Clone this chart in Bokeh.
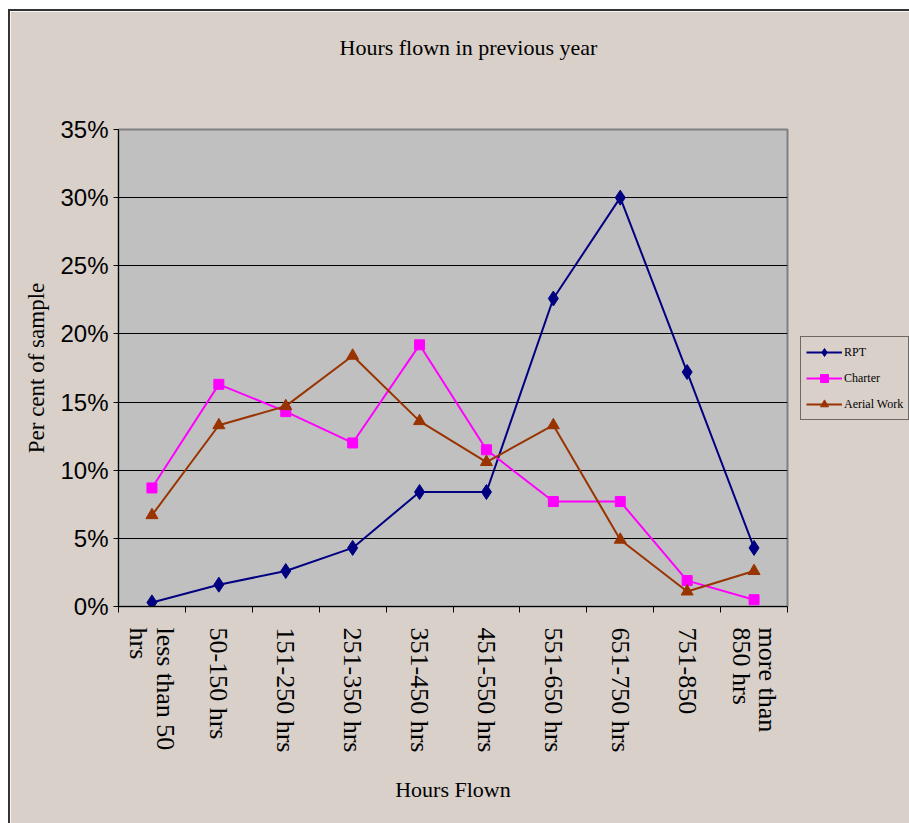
from bokeh.plotting import figure
from bokeh.models import (Range1d, FixedTicker, PrintfTickFormatter, Legend,
                          LegendItem, Title)
from bokeh.embed import file_html
from bokeh.resources import INLINE
import math

# Hours-flown bands and the share of each sector's sample in each band (%)
categories = ["less than 50\nhrs", "50-150 hrs", "151-250 hrs", "251-350 hrs",
              "351-450 hrs", "451-550 hrs", "551-650 hrs", "651-750 hrs",
              "751-850", "more than\n850 hrs"]
rpt = [0.3, 1.6, 2.6, 4.3, 8.4, 8.4, 22.6, 30.0, 17.2, 4.3]
charter = [8.7, 16.3, 14.3, 12.0, 19.2, 11.5, 7.7, 7.7, 1.9, 0.5]
aerial_work = [6.7, 13.3, 14.7, 18.4, 13.6, 10.6, 13.3, 4.9, 1.1, 2.6]
y_ticks = [0, 5, 10, 15, 20, 25, 30, 35]

BG = "#D9D0CA"
SERIF = "Liberation Serif"
SANS = "Liberation Sans"

x = [i + 0.5 for i in range(len(categories))]

p = figure(frame_width=669, frame_height=477, output_backend="svg",
           toolbar_location=None, title=None,
           x_range=Range1d(0, len(categories)), y_range=Range1d(0, 35),
           min_border_left=108, min_border_right=122,
           min_border_top=118, min_border_bottom=217)
p.margin = (9, 0, 0, 8)
p.styles = {"border-left": "2px solid #333333", "border-top": "2px solid #333333"}

p.background_fill_color = "#C0C0C0"
p.border_fill_color = BG
p.outline_line_color = "#808080"
p.outline_line_width = 2

# blank band between the plot area and the chart title
p.add_layout(Title(text=" ", text_font=SERIF, text_font_size="22px",
                   standoff=43), "above")
# chart title
p.add_layout(Title(text="Hours flown in previous year", text_font=SERIF,
                   text_font_size="22px", text_font_style="normal",
                   text_color="black", align="left", offset=221, standoff=0),
             "above")

# grid
p.xgrid.grid_line_color = None
p.ygrid.grid_line_color = "black"
p.ygrid.grid_line_width = 1

# y axis
p.yaxis.ticker = FixedTicker(ticks=y_ticks)
p.yaxis.formatter = PrintfTickFormatter(format="%d%%")
p.yaxis.major_label_text_font = SANS
p.yaxis.major_label_text_font_size = "24px"
p.yaxis.major_label_text_color = "black"
p.yaxis.major_tick_in = 0
p.yaxis.major_tick_out = 5
p.yaxis.minor_tick_line_color = None
p.yaxis.major_label_standoff = 5
p.yaxis.axis_line_color = "black"
p.yaxis.axis_line_width = 1
p.yaxis.axis_label = "Per cent of sample"
p.yaxis.axis_label_text_font = SERIF
p.yaxis.axis_label_text_font_style = "normal"
p.yaxis.axis_label_text_font_size = "23px"
p.yaxis.axis_label_text_color = "black"
p.yaxis.axis_label_standoff = 8

# x axis: labels centred on bands, ticks on band boundaries
p.xaxis.ticker = FixedTicker(ticks=x, minor_ticks=list(range(len(categories) + 1)))
p.xaxis.major_label_overrides = {xv: c for xv, c in zip(x, categories)}
p.xaxis.major_label_orientation = -math.pi / 2
p.xaxis.major_label_text_font = SERIF
p.xaxis.major_label_text_font_size = "26px"
p.xaxis.major_label_text_line_height = 0.9
p.xaxis.major_label_text_color = "black"
p.xaxis.major_tick_in = 0
p.xaxis.major_tick_out = 0
p.xaxis.major_tick_line_color = None
p.xaxis.minor_tick_in = 0
p.xaxis.minor_tick_out = 6
p.xaxis.minor_tick_line_color = "black"
p.xaxis.major_label_standoff = 15
p.xaxis.axis_line_color = "black"
p.xaxis.axis_label = "Hours Flown"
p.xaxis.axis_label_text_font = SERIF
p.xaxis.axis_label_text_font_style = "normal"
p.xaxis.axis_label_text_font_size = "22px"
p.xaxis.axis_label_text_color = "black"
p.xaxis.axis_label_standoff = 22

series = [
    ("RPT", rpt, "#000080", "diamond", 15),
    ("Charter", charter, "#FF00FF", "square", 10),
    ("Aerial Work", aerial_work, "#993300", "triangle", 12),
]
items = []
for name, vals, color, marker, size in series:
    ln = p.line(x, vals, line_color=color, line_width=2)
    sc = p.scatter(x, vals, marker=marker, size=size, fill_color=color,
                   line_color=color)
    items.append(LegendItem(label=name, renderers=[ln, sc]))

legend = Legend(items=items, location=(13, 186), margin=0, padding=5,
                spacing=6, glyph_width=36, glyph_height=20, label_standoff=2,
                label_text_font=SERIF, label_text_font_size="12px",
                label_text_color="black",
                background_fill_color=BG, background_fill_alpha=1,
                border_line_color="black", border_line_width=1)
p.add_layout(legend, "right")

open("out.html", "w").write(file_html(p, INLINE))
